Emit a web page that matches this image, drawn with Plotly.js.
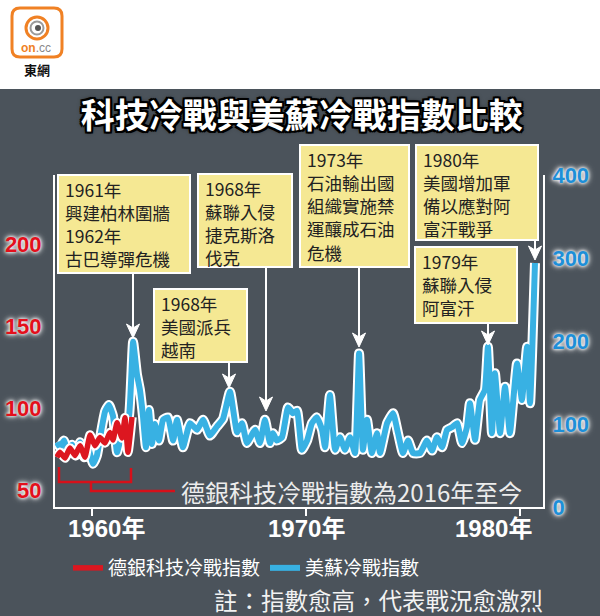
<!DOCTYPE html>
<html><head><meta charset="utf-8">
<script src="https://cdn.plot.ly/plotly-3.0.1.min.js"></script>
<style>html,body{margin:0;padding:0;background:#fff;}#chart{width:600px;height:616px;}</style>
</head><body><div id="chart"></div>
<script>
// ---------- DATA ----------
const usYears = [1958.36,1958.50,1958.69,1958.88,1959.07,1959.25,1959.44,1959.63,1959.81,1960.05,1960.23,1960.42,1960.61,1960.79,1960.98,1961.17,1961.36,1961.54,1961.73,1961.92,1962.10,1962.24,1962.38,1962.52,1962.66,1962.80,1962.94,1963.13,1963.32,1963.55,1963.79,1963.97,1964.25,1964.58,1964.91,1965.19,1965.51,1965.84,1966.12,1966.45,1966.78,1967.01,1967.24,1967.62,1967.85,1968.08,1968.32,1968.46,1968.64,1968.88,1969.16,1969.39,1969.58,1969.81,1970.05,1970.28,1970.51,1970.75,1970.89,1971.12,1971.36,1971.59,1971.82,1972.06,1972.29,1972.48,1972.66,1972.85,1973.08,1973.32,1973.46,1973.79,1974.07,1974.30,1974.53,1974.77,1975.00,1975.33,1975.65,1975.89,1976.12,1976.36,1976.59,1976.82,1977.06,1977.29,1977.52,1977.66,1977.90,1978.13,1978.36,1978.50,1978.69,1978.83,1979.07,1979.30,1979.53,1979.86,1980.09,1980.33,1980.47,1980.70];
const usValues = [78,72,80,65,75,62,78,60,72,52,62,90,115,123,110,66,85,100,110,199,160,141,110,72,117,76,100,80,105,108,80,105,72,101,93,105,86,97,106,139,90,101,77,93,77,105,77,89,80,84,120,113,116,69,80,101,108,93,72,135,69,84,69,84,65,185,69,105,65,89,65,101,113,89,65,80,65,65,80,68,84,72,93,96,101,77,96,125,81,129,141,193,89,161,89,145,89,173,129,193,125,294];
const dbYears = [1958.36,1958.50,1958.74,1958.97,1959.21,1959.44,1959.67,1959.91,1960.14,1960.37,1960.61,1960.84,1960.98,1961.17,1961.40,1961.54,1961.68,1961.87];
const dbValues = [70,73,69.5,75.6,71,77,70,83.5,77,82,78.7,85,80.5,91,81.7,94,73,94.5];
const leftTicks = [50,100,150,200];
const rightTicks = [0,100,200,300,400];
const xTickYears = [1960,1970,1980];
const xTickLabels = ['1960年','1970年','1980年'];
const seriesNames = ['德銀科技冷戰指數','美蘇冷戰指數'];
const eventLines = [
  ['1961年','興建柏林圍牆','1962年','古巴導彈危機'],
  ['1968年','美國派兵','越南'],
  ['1968年','蘇聯入侵','捷克斯洛','伐克'],
  ['1973年','石油輸出國','組織實施禁','運釀成石油','危機'],
  ['1980年','美國增加軍','備以應對阿','富汗戰爭'],
  ['1979年','蘇聯入侵','阿富汗']
];
const titleText = '科技冷戰與美蘇冷戰指數比較';
const bracketText = '德銀科技冷戰指數為2016年至今';
const noteText = '註：指數愈高，代表戰況愈激烈';

// ---------- LAYOUT HELPERS ----------
const L = 55, R = 543, T = 175, B = 507;
const px = x => (x - L) / (R - L);
const py = y => (B - y) / (B - T);
const CJK = "'Noto Sans CJK TC','Noto Sans CJK SC',sans-serif";
const NUM = "'Liberation Sans','Noto Sans CJK TC',sans-serif";
const BG = '#4b535b';
const glow = '0 0 3px #fff, 0 0 5px #fff, 0 0 7px rgba(255,255,255,0.7)';

// box geometry [left, top, right, bottom] in pixels
const boxes = [[58,175,190,273],[154,289,247,362],[198,174,292,267],[300,145,409,267],[416,145,538,240],[415,247,517,323]];
// arrows [x, tailY, headY] in pixels
const arrows = [[133,273,338],[229,362,388],[266,267,411],[359,267,347],[535,240,260],[488,323,345]];
const LINE_GAP = 23.3;

function pathOf(pts, close){ return pts.map((p,i)=>(i?'L':'M')+px(p[0])+','+py(p[1])).join(' ') + (close?' Z':''); }
function rrect(x0,y0,x1,y1,r){
  const P = (x,y)=>px(x)+','+py(y);
  return 'M'+P(x0+r,y0)+' L'+P(x1-r,y0)+' Q'+P(x1,y0)+' '+P(x1,y0+r)+' L'+P(x1,y1-r)+' Q'+P(x1,y1)+' '+P(x1-r,y1)+
         ' L'+P(x0+r,y1)+' Q'+P(x0,y1)+' '+P(x0,y1-r)+' L'+P(x0,y0+r)+' Q'+P(x0,y0)+' '+P(x0+r,y0)+' Z';
}
function circ(cx,cy,r,opt){ return Object.assign({type:'circle',xref:'paper',yref:'paper',x0:px(cx-r),x1:px(cx+r),y0:py(cy+r),y1:py(cy-r)},opt); }

// ---------- TRACES ----------
const traces = [
  {x:usYears,y:usValues,yaxis:'y',mode:'lines',line:{color:'#ffffff',width:10,shape:'spline',smoothing:0.4},showlegend:false,hoverinfo:'skip'},
  {x:usYears,y:usValues,yaxis:'y',mode:'lines',line:{color:'#38b1e3',width:6,shape:'spline',smoothing:0.4},name:seriesNames[1],legendrank:2},
  {x:dbYears,y:dbValues,yaxis:'y2',mode:'lines',line:{color:'#ffffff',width:9.5,shape:'spline',smoothing:0.4},showlegend:false,hoverinfo:'skip'},
  {x:dbYears,y:dbValues,yaxis:'y2',mode:'lines',line:{color:'#dc1720',width:5.5,shape:'spline',smoothing:0.4},name:seriesNames[0],legendrank:1}
];

// ---------- SHAPES ----------
const shapes = [
  {type:'rect',xref:'paper',yref:'paper',x0:px(-5),x1:px(605),y0:py(89),y1:py(-5),fillcolor:'#ffffff',line:{width:0},layer:'below'},
  {type:'path',xref:'paper',yref:'paper',path:rrect(12,8,62,57,8),fillcolor:'#ffffff',line:{color:'#f08124',width:3}},
  circ(37,28,11,{line:{color:'#f08124',width:3}}),
  circ(37,28,6.5,{line:{color:'#9a9a9a',width:2}}),
  circ(38,28,3,{fillcolor:'#555',line:{width:0}}),
  {type:'path',xref:'paper',yref:'paper',path:pathOf([[59,467],[59,482],[131,482],[131,468]]),line:{color:'#d7101a',width:2.5}},
  {type:'path',xref:'paper',yref:'paper',path:pathOf([[91,482],[91,491],[175,491]]),line:{color:'#d7101a',width:2.5}}
];
boxes.forEach(b=>shapes.push({type:'rect',xref:'paper',yref:'paper',x0:px(b[0]),x1:px(b[2]),y0:py(b[3]),y1:py(b[1]),fillcolor:'#f5e893',line:{color:'#ffffff',width:2}}));
arrows.forEach(a=>{
  const [x,t,h] = a;
  shapes.push({type:'line',xref:'paper',yref:'paper',x0:px(x),x1:px(x),y0:py(t),y1:py(h-8),line:{color:'#ffffff',width:2}});
  shapes.push({type:'path',xref:'paper',yref:'paper',path:pathOf([[x,h],[x-6.5,h-14],[x,h-10],[x+6.5,h-14]],true),fillcolor:'#ffffff',line:{color:'#ffffff',width:1}});
});

// ---------- ANNOTATIONS ----------
const annotations = [];
eventLines.forEach((lines,i)=>{
  const b = boxes[i];
  lines.forEach((t,j)=>annotations.push({xref:'paper',yref:'paper',x:px(b[0]+6),y:py(b[1]+14+j*LINE_GAP),xanchor:'left',yanchor:'middle',align:'left',showarrow:false,borderpad:0,text:t,font:{family:CJK,size:17.5,color:'#222'}}));
});
const xLabelCenters = [106,306,493];
xTickLabels.forEach((t,i)=>annotations.push({xref:'paper',yref:'paper',x:px(xLabelCenters[i]),y:py(528),xanchor:'center',yanchor:'middle',showarrow:false,text:t,font:{family:NUM,size:24,color:'#fff',weight:'bold'}}));
annotations.push({xref:'paper',yref:'paper',x:px(179),y:py(491),xanchor:'left',yanchor:'middle',showarrow:false,text:bracketText,font:{family:CJK,size:24,color:'#ececec'}});
annotations.push({xref:'paper',yref:'paper',x:px(545),y:py(600),xanchor:'right',yanchor:'middle',showarrow:false,text:noteText,font:{family:CJK,size:23.5,color:'#f2f2f2'}});
annotations.push({xref:'paper',yref:'paper',x:px(36),y:py(48),xanchor:'center',yanchor:'middle',showarrow:false,text:'<b>on</b><span style="color:#888">.cc</span>',font:{family:NUM,size:12,color:'#f08124'}});
annotations.push({xref:'paper',yref:'paper',x:px(37),y:py(69),xanchor:'center',yanchor:'middle',showarrow:false,text:'東網',font:{family:CJK,size:13,color:'#111',weight:'bold'}});

// ---------- LAYOUT ----------
const layout = {
  width:600,height:616,
  margin:{l:L,r:600-R,t:T,b:616-B,pad:0},
  paper_bgcolor:BG,plot_bgcolor:BG,
  title:{text:titleText,x:0.503,xanchor:'center',y:1-116/616,yanchor:'middle',yref:'container',
         font:{family:CJK,size:34,color:'#fff',weight:'bold',shadow:'2px 2px 0 #000,-2px -2px 0 #000,2px -2px 0 #000,-2px 2px 0 #000,0 2px 0 #000,0 -2px 0 #000,2px 0 0 #000,-2px 0 0 #000,0 0 5px #000'}},
  xaxis:{range:[1958.271,1981.075],showline:true,linecolor:'#fff',linewidth:2,ticks:'outside',tickvals:xTickYears,ticklen:7,tickwidth:2,tickcolor:'#fff',showticklabels:false,showgrid:false,zeroline:false},
  yaxis:{range:[0,400],side:'right',showline:true,linecolor:'#fff',linewidth:2,tickvals:rightTicks,ticks:'',ticklabelstandoff:3,showgrid:false,zeroline:false,
         tickfont:{family:NUM,size:22,color:'#1d8fd8',weight:'bold',shadow:glow}},
  yaxis2:{range:[39.6,242.1],overlaying:'y',side:'left',showline:true,linecolor:'#fff',linewidth:2,tickvals:leftTicks,ticks:'',ticklabelstandoff:7,showgrid:false,zeroline:false,
         tickfont:{family:NUM,size:22,color:'#e3101c',weight:'bold',shadow:glow}},
  showlegend:true,
  legend:{orientation:'h',x:px(68),y:py(568),xanchor:'left',yanchor:'middle',bgcolor:'rgba(0,0,0,0)',font:{family:CJK,size:19,color:'#fff'},itemwidth:30},
  shapes:shapes,annotations:annotations
};
Plotly.newPlot('chart',traces,layout,{displayModeBar:false,staticPlot:true});
</script></body></html>
